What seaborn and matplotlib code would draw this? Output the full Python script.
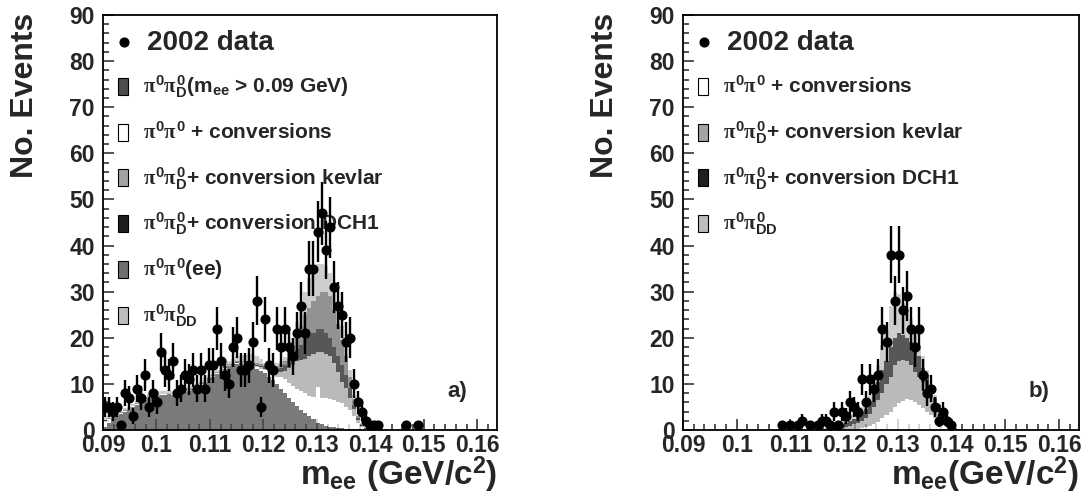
import numpy as np
import pandas as pd
import matplotlib
matplotlib.use("Agg")
import matplotlib.pyplot as plt
from matplotlib.patches import Rectangle
from matplotlib.ticker import FixedLocator, MultipleLocator, FuncFormatter
import seaborn as sns

# ── Binning (0.75 MeV bins starting at 0.09 GeV) ──────────────────────────────
BIN_W = 0.00075
N_BINS = 99
EDGES = 0.09 + BIN_W * np.arange(N_BINS + 1)
CENTERS = 0.5 * (EDGES[:-1] + EDGES[1:])

XTICKS = [0.09, 0.10, 0.11, 0.12, 0.13, 0.14, 0.15, 0.16]

# ── Panel a) : counts per bin, starting at bin 0 ──────────────────────────────
data_a = [5, 5, 4, 5, 1, 8, 7, 3, 9, 7,
          12, 5, 8, 6, 17, 13, 12, 15, 8, 9,
          12, 11, 13, 9, 13, 9, 14, 14, 22, 15,
          12, 10, 18, 20, 13, 13, 14, 19, 28, 5,
          24, 14, 13, 22, 18, 22, 18, 16, 21, 27,
          21, 35, 35, 43, 47, 39, 44, 31, 27, 25,
          19, 20, 10, 6, 4, 2, 1, 1, 1, 0,
          0, 0, 0, 0, 0, 1, 0, 0, 1]

dalitz_a = [0.7, 1.5, 2.5, 3.0, 3.5, 4.0, 4.3, 5.0, 5.5, 6.0,
            6.6, 7.0, 7.2, 7.4, 7.6, 7.6, 7.8, 7.6, 7.7, 7.8,
            8.2, 8.5, 8.8, 9.2, 9.8, 10.5, 11.0, 11.6, 12.2, 12.8,
            13.3, 13.8, 14.0, 14.4, 14.5, 14.3, 14.0, 13.7, 13.3, 12.9,
            12.3, 11.5, 10.8, 10.0, 9.0, 8.0, 7.0, 6.0, 5.2, 4.4,
            3.6, 3.0, 2.3, 1.6, 1.2, 0.9, 0.7, 0.6, 0.5, 0.4,
            0.3, 0.3, 0.2, 0.2, 0.1, 0.0, 0.0]
conv_a = [1.3, 0.8, 0.3, 0.1, 0.1, 0.1, 0.1, 0.1, 0.1, 0.1,
          0.1, 0.1, 0.1, 0.1, 0.1, 0.1, 0.1, 0.1, 0.1, 0.1,
          0.1, 0.1, 0.1, 0.1, 0.1, 0.1, 0.1, 0.1, 0.1, 0.1,
          0.1, 0.1, 0.1, 0.1, 0.1, 0.2, 0.3, 0.3, 0.3, 0.4,
          0.7, 1.0, 1.2, 1.5, 2.5, 3.0, 3.2, 3.6, 3.8, 4.1,
          4.4, 4.3, 4.9, 7.7, 5.8, 6.0, 6.1, 6.0, 5.5, 5.4,
          4.7, 4.0, 2.8, 1.3, 0.5, 0.2, 0.1]
kevlar_a = [0.05] * 30 + [0.1] * 5 + [
            0.2, 0.2, 0.2, 0.3, 0.3,
            0.3, 0.5, 0.7, 1.1, 1.0, 1.8, 3.3, 4.4, 6.0, 6.7,
            7.5, 8.7, 9.3, 7.7, 10.0, 9.6, 9.2, 7.9, 6.5, 4.7,
            4.0, 2.7, 1.5, 0.7, 0.3, 0.1, 0.0]
dch1_a = [0.05] * 30 + [0.1] * 5 + [
          0.1, 0.2, 0.3, 0.3, 0.3,
          0.3, 0.3, 0.4, 0.6, 1.0, 1.2, 2.0, 2.5, 2.5, 3.3,
          4.5, 4.5, 4.5, 5.0, 5.0, 4.5, 4.0, 3.5, 3.5, 3.5,
          3.0, 2.0, 1.0, 0.3, 0.1, 0.05, 0.02]
ee_a = [0.1] * 30 + [0.2] * 5 + [
        0.2, 0.3, 0.3, 0.4, 0.4,
        0.4, 0.5, 0.5, 0.6, 0.8, 1.0, 1.5, 2.0, 2.5, 4.0,
        5.0, 6.0, 7.0, 7.0, 8.0, 9.0, 9.0, 8.0, 7.0, 5.5,
        4.0, 2.5, 1.3, 0.5, 0.3, 0.1, 0.03]
dd_a = [0.6, 0.5, 0.4, 0.3, 0.4, 0.4, 0.4, 0.4, 0.4, 0.4,
        0.4, 0.4, 0.4, 0.4, 0.5, 0.5, 0.5, 0.5, 0.5, 0.5,
        0.5, 0.5, 0.5, 0.5, 0.6, 0.6, 0.6, 0.6, 0.6, 0.6,
        0.7, 0.7, 0.8, 0.9, 1.0, 1.3, 1.5, 1.7, 1.4, 1.0,
        0.6, 0.4, 0.4, 0.7, 0.7, 0.8, 1.0, 1.5, 3.5, 4.5,
        5.0, 6.5, 7.0, 7.0, 6.0, 5.5, 5.0, 4.0, 4.0, 3.0,
        2.5, 1.5, 0.7, 0.5, 0.3, 0.15, 0.15, 0.15, 0.1, 0.1,
        0.08, 0.06, 0.05, 0.05, 0.05, 0.04, 0.04, 0.03, 0.03, 0.02]

# ── Panel b) ──────────────────────────────────────────────────────────────────
data_b = [0] * 24 + [
          1, 0, 1, 0, 1,
          2, 0, 1, 0, 1, 2, 2, 1, 4, 1,
          4, 3, 6, 5, 4, 11, 6, 11, 9, 12,
          22, 19, 38, 28, 38, 26, 29, 22, 18, 22,
          12, 8, 9, 5, 2, 4, 2, 1]
conv_b = [0.0] * 35 + [
          0, 0, 0, 0, 0, 0.1, 0.1, 0.2, 0.3, 0.4,
          0.6, 0.9, 1.3, 1.8, 2.5, 3.2, 4.0, 5.0, 5.8, 6.3,
          6.8, 6.5, 6.0, 5.5, 4.8, 4.0, 3.2, 2.5, 1.8, 1.2,
          0.7, 0.3, 0.1, 0.05]
kevlar_b = [0.0] * 35 + [
            0.1, 0.2, 0.3, 0.3, 0.5, 0.6, 0.8, 1.0, 1.3, 1.6,
            1.9, 2.6, 3.7, 4.7, 5.5, 6.8, 7.5, 9.0, 9.2, 8.9,
            8.2, 7.5, 6.5, 6.0, 5.7, 4.5, 3.8, 3.0, 2.2, 1.8,
            0.8, 0.5, 0.2, 0.05]
dch1_b = [0.0] * 35 + [
          0.2, 0.3, 0.5, 0.7, 0.8, 0.8, 1.1, 1.2, 1.4, 1.8,
          2.0, 2.5, 3.0, 4.0, 5.0, 5.0, 6.5, 6.0, 6.0, 5.3,
          5.0, 5.0, 5.0, 4.5, 3.0, 3.5, 2.5, 1.5, 1.5, 0.5,
          0.5, 0.2, 0.1, 0.05]
dd_b = [0.0] * 24 + [0.1, 0.1, 0.15, 0.15, 0.2, 0.2, 0.2, 0.2, 0.2, 0.2, 0.2] + [
        0.2, 0.3, 0.3, 0.5, 0.7, 1.0, 1.0, 1.1, 1.2, 1.2,
        1.3, 1.5, 2.5, 3.5, 5.5, 7.0, 9.0, 10.0, 8.5, 7.0,
        6.0, 5.0, 3.5, 2.5, 2.5, 1.0, 0.5, 0.5, 0.3, 0.5,
        0.3, 0.2, 0.1, 0.1]

LAB_DALITZ = r"$\pi^0\pi^0_{\mathbf{D}}$(m$_{\mathbf{ee}}$ > 0.09 GeV)"
LAB_CONV = r"$\pi^0\pi^0$ + conversions"
LAB_KEV = r"$\pi^0\pi^0_{\mathbf{D}}$+ conversion kevlar"
LAB_DCH = r"$\pi^0\pi^0_{\mathbf{D}}$+ conversion DCH1"
LAB_EE = r"$\pi^0\pi^0$(ee)"
LAB_DD = r"$\pi^0\pi^0_{\mathbf{DD}}$"

COLORS = {LAB_DALITZ: "#4d4d4d", LAB_CONV: "#ffffff", LAB_KEV: "#a3a3a3",
          LAB_DCH: "#1f1f1f", LAB_EE: "#6e6e6e", LAB_DD: "#bdbdbd"}

# ── Style ─────────────────────────────────────────────────────────────────────
sns.set_style("ticks")
plt.rcParams["font.family"] = ["Liberation Sans", "DejaVu Sans"]
plt.rcParams["font.weight"] = "bold"
plt.rcParams["axes.labelweight"] = "bold"
plt.rcParams["mathtext.fontset"] = "custom"
plt.rcParams["mathtext.rm"] = "Liberation Sans:bold"
plt.rcParams["mathtext.bf"] = "Liberation Sans:bold"
plt.rcParams["mathtext.it"] = "Liberation Serif"


def pad(vals):
    v = np.zeros(N_BINS)
    v[:len(vals)] = vals
    return v


def long_frame(components):
    rows = []
    for lab, vals in components.items():
        rows.append(pd.DataFrame({"x": CENTERS, "w": pad(vals), "comp": lab}))
    return pd.concat(rows, ignore_index=True)


def draw_panel(ax, components, data, tag, xlabel, ax_w_px):
    # components are given bottom -> top (also key order);
    # seaborn stacks the first hue level on top, so reverse
    order = list(components.keys())[::-1]
    df = long_frame(components)
    sns.histplot(data=df, x="x", weights="w", hue="comp", hue_order=order,
                 bins=list(EDGES), multiple="stack", element="step", fill=True,
                 palette=COLORS, linewidth=0, edgecolor="none",
                 legend=False, ax=ax)

    counts = pad(data)
    m = counts > 0
    ax.errorbar(CENTERS[m], counts[m], yerr=np.sqrt(counts[m]), fmt="o",
                color="black", ms=6.3, elinewidth=1.7, capsize=0, zorder=5)

    ax.set_xlim(0.09, 0.1637)
    ax.set_ylim(0, 90)
    ax.xaxis.set_major_locator(FixedLocator(XTICKS))
    ax.xaxis.set_major_formatter(FuncFormatter(lambda v, p: f"{v:g}"))
    ax.xaxis.set_minor_locator(MultipleLocator(0.002))
    ax.yaxis.set_major_locator(MultipleLocator(10))
    ax.yaxis.set_minor_locator(MultipleLocator(2))
    ax.tick_params(which="both", direction="in", top=False, right=False,
                   labelsize=16.5, width=1.1)
    ax.tick_params(which="major", length=8)
    ax.tick_params(which="minor", length=4)
    ax.tick_params(axis="x", pad=3)
    ax.tick_params(axis="y", pad=6)
    for s in ax.spines.values():
        s.set_linewidth(1.3)
        s.set_color("black")

    ax.set_ylabel("No. Events", fontsize=23, loc="top")
    ax.yaxis.set_label_coords(-0.16, 1.005)
    ax.set_xlabel(xlabel, fontsize=24, loc="right")
    ax.xaxis.set_label_coords(1.0, -0.06)

    ax.text(0.898, 0.092, tag, fontsize=16, ha="center", va="center",
            transform=ax.transAxes)

    # key, ROOT-style, inside the frame
    h = 415.0
    ax.plot([21 / ax_w_px], [1 - 27 / h], "o", color="black", ms=6.3,
            transform=ax.transAxes)
    ax.text(44 / ax_w_px, 1 - 35 / h, "2002 data", fontsize=20,
            va="baseline", transform=ax.transAxes)
    for k, lab in enumerate(components.keys()):
        yc = 71.5 + 45.7 * k
        ax.add_patch(Rectangle((15 / ax_w_px, 1 - (yc + 8.5) / h),
                               10 / ax_w_px, 17 / h,
                               facecolor=COLORS[lab], edgecolor="black",
                               lw=0.8, transform=ax.transAxes, zorder=6))
        ax.text(40 / ax_w_px, 1 - (yc + 6.5) / h, lab, fontsize=15,
                va="baseline", transform=ax.transAxes)


fig = plt.figure(figsize=(10.84, 4.95), dpi=100)
W, H = 1084.0, 495.0
ax_a = fig.add_axes([103 / W, 1 - 430 / H, 394 / W, 415 / H])
ax_b = fig.add_axes([683 / W, 1 - 430 / H, 396 / W, 415 / H])

comps_a = {LAB_DALITZ: dalitz_a, LAB_CONV: conv_a, LAB_KEV: kevlar_a,
           LAB_DCH: dch1_a, LAB_EE: ee_a, LAB_DD: dd_a}
comps_b = {LAB_CONV: conv_b, LAB_KEV: kevlar_b, LAB_DCH: dch1_b, LAB_DD: dd_b}

draw_panel(ax_a, comps_a, data_a, "a)",
           r"$\mathbf{m_{ee}}$ (GeV/c$^2$)", 394.0)
draw_panel(ax_b, comps_b, data_b, "b)",
           r"$\mathbf{m_{ee}}$(GeV/c$^2$)", 396.0)

fig.savefig("out.png", dpi=100)
